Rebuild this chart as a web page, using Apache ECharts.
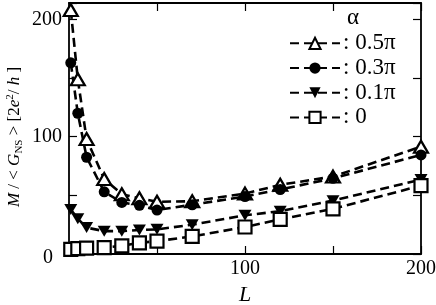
<!DOCTYPE html>
<html><head><meta charset="utf-8">
<script src="https://cdn.jsdelivr.net/npm/echarts@6/dist/echarts.min.js"></script>
<style>html,body{margin:0;padding:0;background:#fff}#c{width:436px;height:305px}</style>
</head><body><div id="c"></div>
<script>
const L = [1, 5, 10, 20, 30, 40, 50, 70, 100, 120, 150, 200];
const a05 = [208, 149, 98, 64, 51, 47.5, 44.5, 45, 51.5, 59, 66, 91.5];
const a03 = [163, 120, 82.5, 53, 44, 41.5, 37.5, 42, 49, 55, 64.5, 84.5];
const a01 = [38, 30, 22.5, 19.5, 19.5, 20.5, 21, 25, 33, 36.5, 45.5, 63.5];
const a00 = [4, 4.5, 5, 5.5, 7, 9.5, 11, 15, 23, 29.5, 38.5, 58.3];
const seriesNames = ['0.5π', '0.3π', '0.1π', '0'];
const xLabels = [100, 200];
const yLabels = [0, 100, 200];

const serif = '"Liberation Serif", "Times New Roman", Times, serif';
const chart = echarts.init(document.getElementById('c'), null, {renderer: 'canvas'});

function mk(name, vals, symbol, size, open) {
  return {
    name: name, type: 'line',
    data: L.map((x, i) => [x, vals[i]]),
    symbol: symbol, symbolSize: size, showSymbol: true,
    lineStyle: {color: '#000', width: 2.6, type: [9, 5]},
    itemStyle: open ? {color: '#fff', borderColor: '#000', borderWidth: 2.2}
                    : {color: '#000', borderColor: '#000', borderWidth: 0},
    emphasis: {disabled: true},
    animation: false
  };
}

const axisCommon = {
  axisLine: {show: true, onZero: false, lineStyle: {color: '#000', width: 1.8}},
  axisTick: {show: true, inside: true, length: 8, lineStyle: {color: '#000', width: 1.2}},
  splitLine: {show: false}
};

const rs = (extra) => Object.assign({fontFamily: serif, fontSize: 16, color: '#000', lineHeight: 20}, extra || {});

chart.setOption({
  animation: false,
  grid: {left: 69, right: 15, top: 3, bottom: 51, containLabel: false, outerBoundsMode: 'none'},
  xAxis: [
    Object.assign({
      type: 'value', min: 0, max: 200, interval: 50, position: 'bottom',
      axisLabel: {show: true, margin: 5, fontFamily: serif, fontSize: 20, color: '#000',
        formatter: v => xLabels.indexOf(v) >= 0 ? String(v) : ''},
      name: 'L', nameLocation: 'middle', nameGap: 29,
      nameTextStyle: {fontFamily: serif, fontStyle: 'italic', fontSize: 22, color: '#000'}
    }, axisCommon),
    Object.assign({
      type: 'value', min: 0, max: 200, interval: 50, position: 'top',
      axisLabel: {show: false}
    }, axisCommon)
  ],
  yAxis: [
    Object.assign({
      type: 'value', min: 0, max: 214, interval: 50, position: 'left',
      axisLabel: {show: true, margin: 7, fontFamily: serif, fontSize: 20, color: '#000',
        formatter: v => yLabels.indexOf(v) >= 0 ? (v === 0 ? '{z|0}' : String(v)) : '',
        rich: {z: {fontFamily: serif, fontSize: 20, color: '#000', padding: [8, 9, 0, 0]}}}
    }, axisCommon),
    Object.assign({
      type: 'value', min: 0, max: 214, interval: 50, position: 'right',
      axisLabel: {show: false}
    }, axisCommon)
  ],
  legend: {
    orient: 'vertical', left: 284, top: 26,
    itemWidth: 50, itemHeight: 14, itemGap: 0,
    selectedMode: false,
    data: seriesNames,
    formatter: ': {name}',
    textStyle: {fontFamily: serif, fontSize: 23, color: '#000', lineHeight: 24.7, padding: [0, 0, 0, -2]}
  },
  graphic: [
    {type: 'text', x: 353, y: 18, z: 100,
      style: {text: 'α', fontFamily: serif, fontSize: 23, fill: '#000', align: 'center', verticalAlign: 'middle'}},
    {type: 'text', x: 15, y: 137, rotation: Math.PI / 2, z: 100,
      style: {
        text: '{i|M}{n| / < }{i|G}{s|NS}{n| > [2}{i|e}{p|2}{n|/ }{i|h}{n| ]}',
        fontFamily: serif, fontSize: 17, fill: '#000', align: 'center', verticalAlign: 'middle',
        rich: {
          n: rs({fontSize: 17}),
          i: rs({fontSize: 17, fontStyle: 'italic'}),
          s: rs({fontSize: 11, lineHeight: 10, verticalAlign: 'bottom'}),
          p: rs({fontSize: 11, lineHeight: 10, verticalAlign: 'top'})
        }
      }}
  ],
  series: [
    mk(seriesNames[0], a05, 'triangle', [14, 12], true),
    mk(seriesNames[1], a03, 'circle', 11, false),
    mk(seriesNames[2], a01, 'path://M0,0L10,0L5,9Z', [13, 11], false),
    mk(seriesNames[3], a00, 'rect', 13, true)
  ]
});
</script>
</body></html>
